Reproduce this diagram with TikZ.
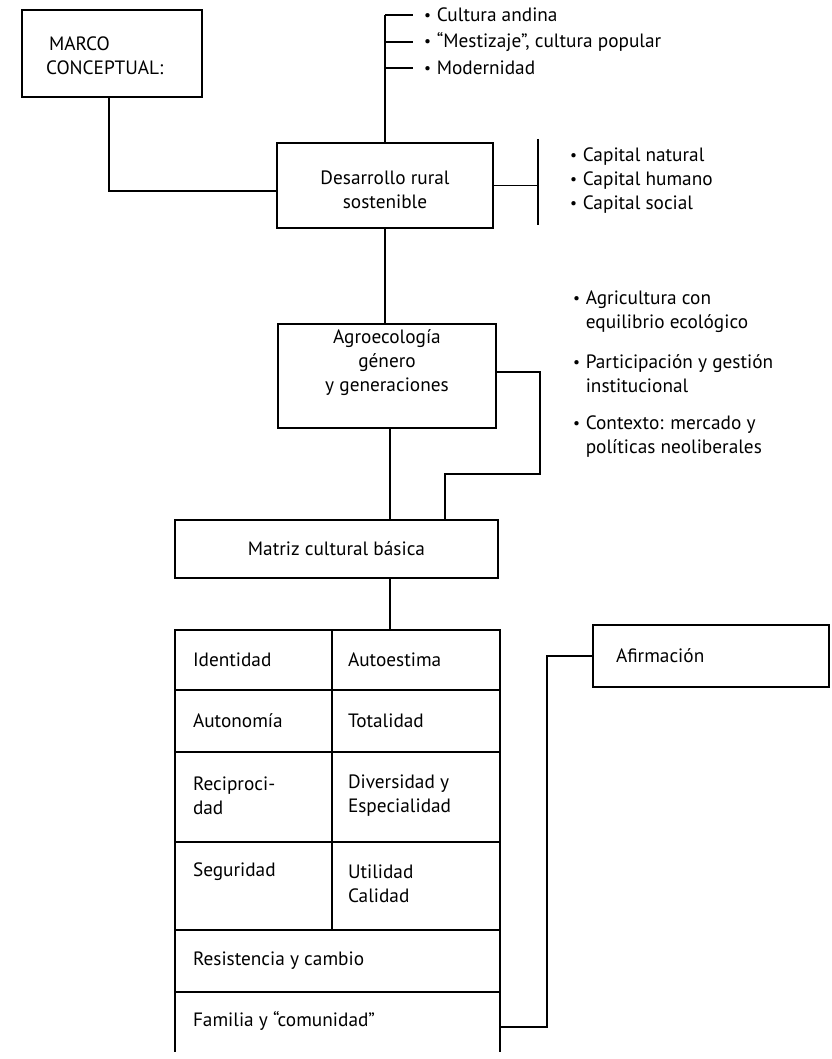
\documentclass[tikz,border=0pt]{standalone}
\usepackage{graphicx}
\usepackage{fontspec}
\setmainfont{PT Sans}
\newcommand{\smallbul}{\raisebox{0.12ex}{\scalebox{0.8}{\textbullet}}\hspace{0.3em}}
\begin{document}
\begin{tikzpicture}[x=1pt,y=-1pt,
  every node/.style={inner sep=0pt, outer sep=0pt},
  box/.style={draw, line width=1.4pt, rectangle},
  txt/.style={font=\fontsize{19.3}{24}\selectfont, anchor=west, align=left},
  ctxt/.style={font=\fontsize{19.3}{24}\selectfont, align=center},
  link/.style={line width=1.4pt},
]
\useasboundingbox (0,0) rectangle (831,1059);

% --- top level boxes ---
\node[box, minimum width=180pt, minimum height=87pt] (marco) at (112,53.5) {};
\node[txt] (marcot) at (46,56) {\hspace*{3pt}MARCO\\CONCEPTUAL:};

\node[box, minimum width=216pt, minimum height=85pt] (desa) at (385,185.5) {};
\node[ctxt] (desat) at (385,190) {Desarrollo rural\\sostenible};

\node[box, minimum width=218pt, minimum height=104pt] (agro) at (387,376) {};
\node[ctxt] (agrot) at (387,363) {Agroecología\\género\\y generaciones};

\node[box, ctxt, minimum width=323pt, minimum height=58pt] (matriz) at (336.5,549) {Matriz cultural básica};

\node[box, minimum width=236pt, minimum height=62pt] (afirm) at (711,656) {};
\node[txt] (afirmt) at (616,656) {Afirmación};

% --- bullet lists ---
\node[txt] (cA) at (424,15) {\smallbul Cultura andina};
\node[txt] (cB) at (424,42) {\smallbul “Mestizaje”, cultura popular};
\node[txt] (cC) at (424,68) {\smallbul Modernidad};

\node[txt] (cap) at (570,181) {\smallbul Capital natural\\\smallbul Capital humano\\\smallbul Capital social};

\node[txt] (ag1) at (573,311.5) {\smallbul Agricultura con\\\hphantom{\smallbul}equilibrio ecológico};
\node[txt] (ag2) at (573,374) {\smallbul Participación y gestión\\\hphantom{\smallbul}institucional};
\node[txt] (ag3) at (573,437) {\smallbul Contexto: mercado y\\\hphantom{\smallbul}políticas neoliberales};

% --- table of the basic cultural matrix ---
\node[box, minimum width=157pt, minimum height=60pt] (c11) at (253.5,660) {};
\node[box, minimum width=168pt, minimum height=60pt] (c12) at (416,660) {};
\node[box, minimum width=157pt, minimum height=62pt] (c21) at (253.5,721) {};
\node[box, minimum width=168pt, minimum height=62pt] (c22) at (416,721) {};
\node[box, minimum width=157pt, minimum height=90pt] (c31) at (253.5,797) {};
\node[box, minimum width=168pt, minimum height=90pt] (c32) at (416,797) {};
\node[box, minimum width=157pt, minimum height=88pt] (c41) at (253.5,886) {};
\node[box, minimum width=168pt, minimum height=88pt] (c42) at (416,886) {};
\node[box, minimum width=325pt, minimum height=62pt] (c5) at (337.5,961) {};
\node[minimum width=325pt, minimum height=60pt] (c6) at (337.5,1022) {};
\draw[link] (c6.north west) -- (c6.south west);
\draw[link] (c6.north east) -- (c6.south east);

\node[txt] (t11) at (193,660) {Identidad};
\node[txt] (t12) at (348,660) {Autoestima};
\node[txt] (t21) at (193,721) {Autonomía};
\node[txt] (t22) at (348,721) {Totalidad};
\node[txt] (t31) at (193,796) {Reciproci-\\dad};
\node[txt] (t32) at (348,796) {Diversidad y\\Especialidad};
\node[txt] (t41) at (193,872) {Seguridad};
\node[txt] (t42) at (348,884) {Utilidad\\Calidad};
\node[txt] (t5) at (193,961) {Resistencia y cambio};
\node[txt] (t6) at (193,1021) {Familia y “comunidad”};

% --- connectors ---
\draw[link] ([xshift=-3pt]marco.south) |- ([yshift=-5.5pt]desa.west);

\draw[link] (desa.north) -- (desa.north |- cA.west);
\draw[link] (desa.north |- cA.west) -- ([xshift=-11pt]cA.west);
\draw[link] (desa.north |- cB.west) -- ([xshift=-11pt]cB.west);
\draw[link] (desa.north |- cC.west) -- ([xshift=-11pt]cC.west);

\coordinate (bt) at (538,139);
\coordinate (bb) at (538,225);
\draw[line width=2.2pt] (bt) -- (bb);
\draw[link] (desa.east) -- (desa.east -| bt);

\draw[link] (desa.south) -- (desa.south |- agro.north);
\draw[link] ([xshift=3pt]agro.south) -- ([xshift=3pt]agro.south |- matriz.north);
\coordinate (j1) at (540,474);
\coordinate (j2) at (445,474);
\draw[link] ([yshift=4pt]agro.east) -| (j1) -- (j2) -- (j2 |- matriz.north);

\draw[link] ([xshift=53.5pt]matriz.south) -- ([xshift=53.5pt]matriz.south |- c12.north);

\coordinate (a1) at (547,1027);
\draw[link] (afirm.west) -| (a1) -- (a1 -| c6.east);
\end{tikzpicture}
\end{document}
